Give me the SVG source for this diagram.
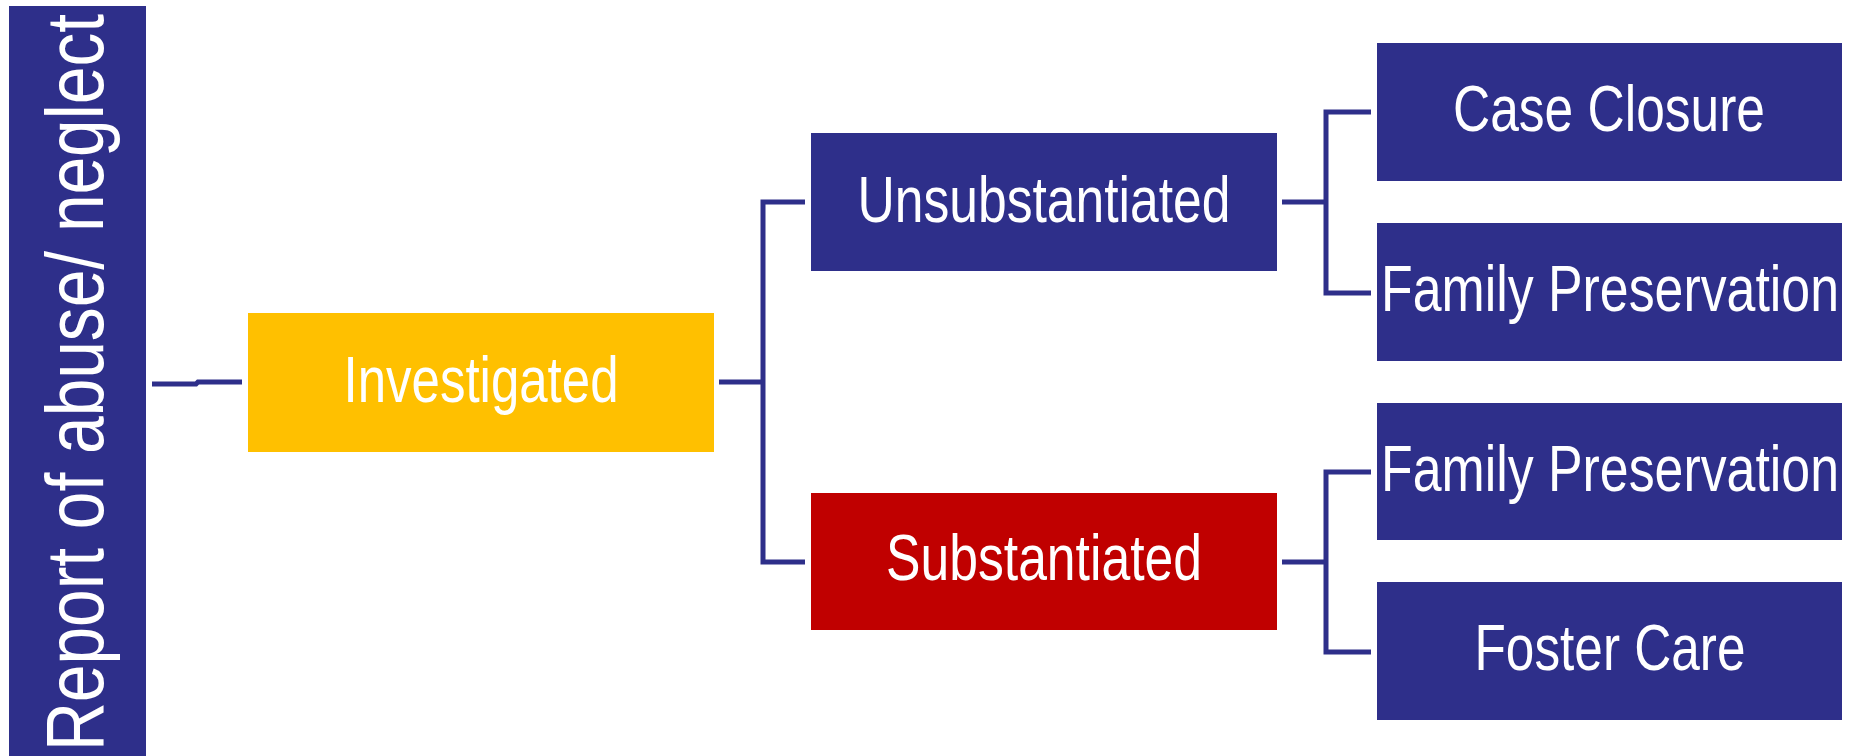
<svg xmlns="http://www.w3.org/2000/svg" width="1849" height="756" viewBox="0 0 1849 756">
<style>
.navy{fill:#2E2F8A}
.yellow{fill:#FFC000}
.red{fill:#C00000}
.lbl{font-family:"Liberation Sans Narrow","Liberation Sans",Arial,sans-serif;font-size:64px;fill:#FFFFFF;text-anchor:middle}
.big{font-family:"Liberation Sans",Arial,sans-serif;font-size:82px;fill:#FFFFFF}
.conn{fill:none;stroke:#2E2F8A;stroke-width:5}
</style>
<rect width="1849" height="756" fill="#FFFFFF"/>
<g id="connectors">
<path class="conn" d="M152,384 H196 L198,382 H242"/>
<path class="conn" d="M719,382 H763 M805,202 H763 V562 H805"/>
<path class="conn" d="M1282,202 H1326 M1371,112 H1326 V293 H1371"/>
<path class="conn" d="M1282,562 H1326 M1371,472 H1326 V652 H1371"/>
</g>
<g id="report">
<rect class="navy" x="9" y="6" width="137" height="750"/>
<text class="big" transform="translate(103,751) rotate(-90)" textLength="737" lengthAdjust="spacingAndGlyphs">Report of abuse/ neglect</text>
</g>
<g id="investigated">
<rect class="yellow" x="248" y="313" width="466" height="139"/>
<text class="lbl" x="481" y="402" textLength="275" lengthAdjust="spacingAndGlyphs">Investigated</text>
</g>
<g id="unsubstantiated">
<rect class="navy" x="811" y="133" width="466" height="138"/>
<text class="lbl" x="1044" y="222" textLength="373" lengthAdjust="spacingAndGlyphs">Unsubstantiated</text>
</g>
<g id="substantiated">
<rect class="red" x="811" y="493" width="466" height="137"/>
<text class="lbl" x="1044" y="580" textLength="316" lengthAdjust="spacingAndGlyphs">Substantiated</text>
</g>
<g id="case-closure">
<rect class="navy" x="1377" y="43" width="465" height="138"/>
<text class="lbl" x="1609" y="131" textLength="312" lengthAdjust="spacingAndGlyphs">Case Closure</text>
</g>
<g id="family-preservation-1">
<rect class="navy" x="1377" y="223" width="465" height="138"/>
<text class="lbl" x="1610" y="311" textLength="458" lengthAdjust="spacingAndGlyphs">Family Preservation</text>
</g>
<g id="family-preservation-2">
<rect class="navy" x="1377" y="403" width="465" height="137"/>
<text class="lbl" x="1610" y="491" textLength="458" lengthAdjust="spacingAndGlyphs">Family Preservation</text>
</g>
<g id="foster-care">
<rect class="navy" x="1377" y="582" width="465" height="138"/>
<text class="lbl" x="1610" y="670" textLength="271" lengthAdjust="spacingAndGlyphs">Foster Care</text>
</g>
</svg>
